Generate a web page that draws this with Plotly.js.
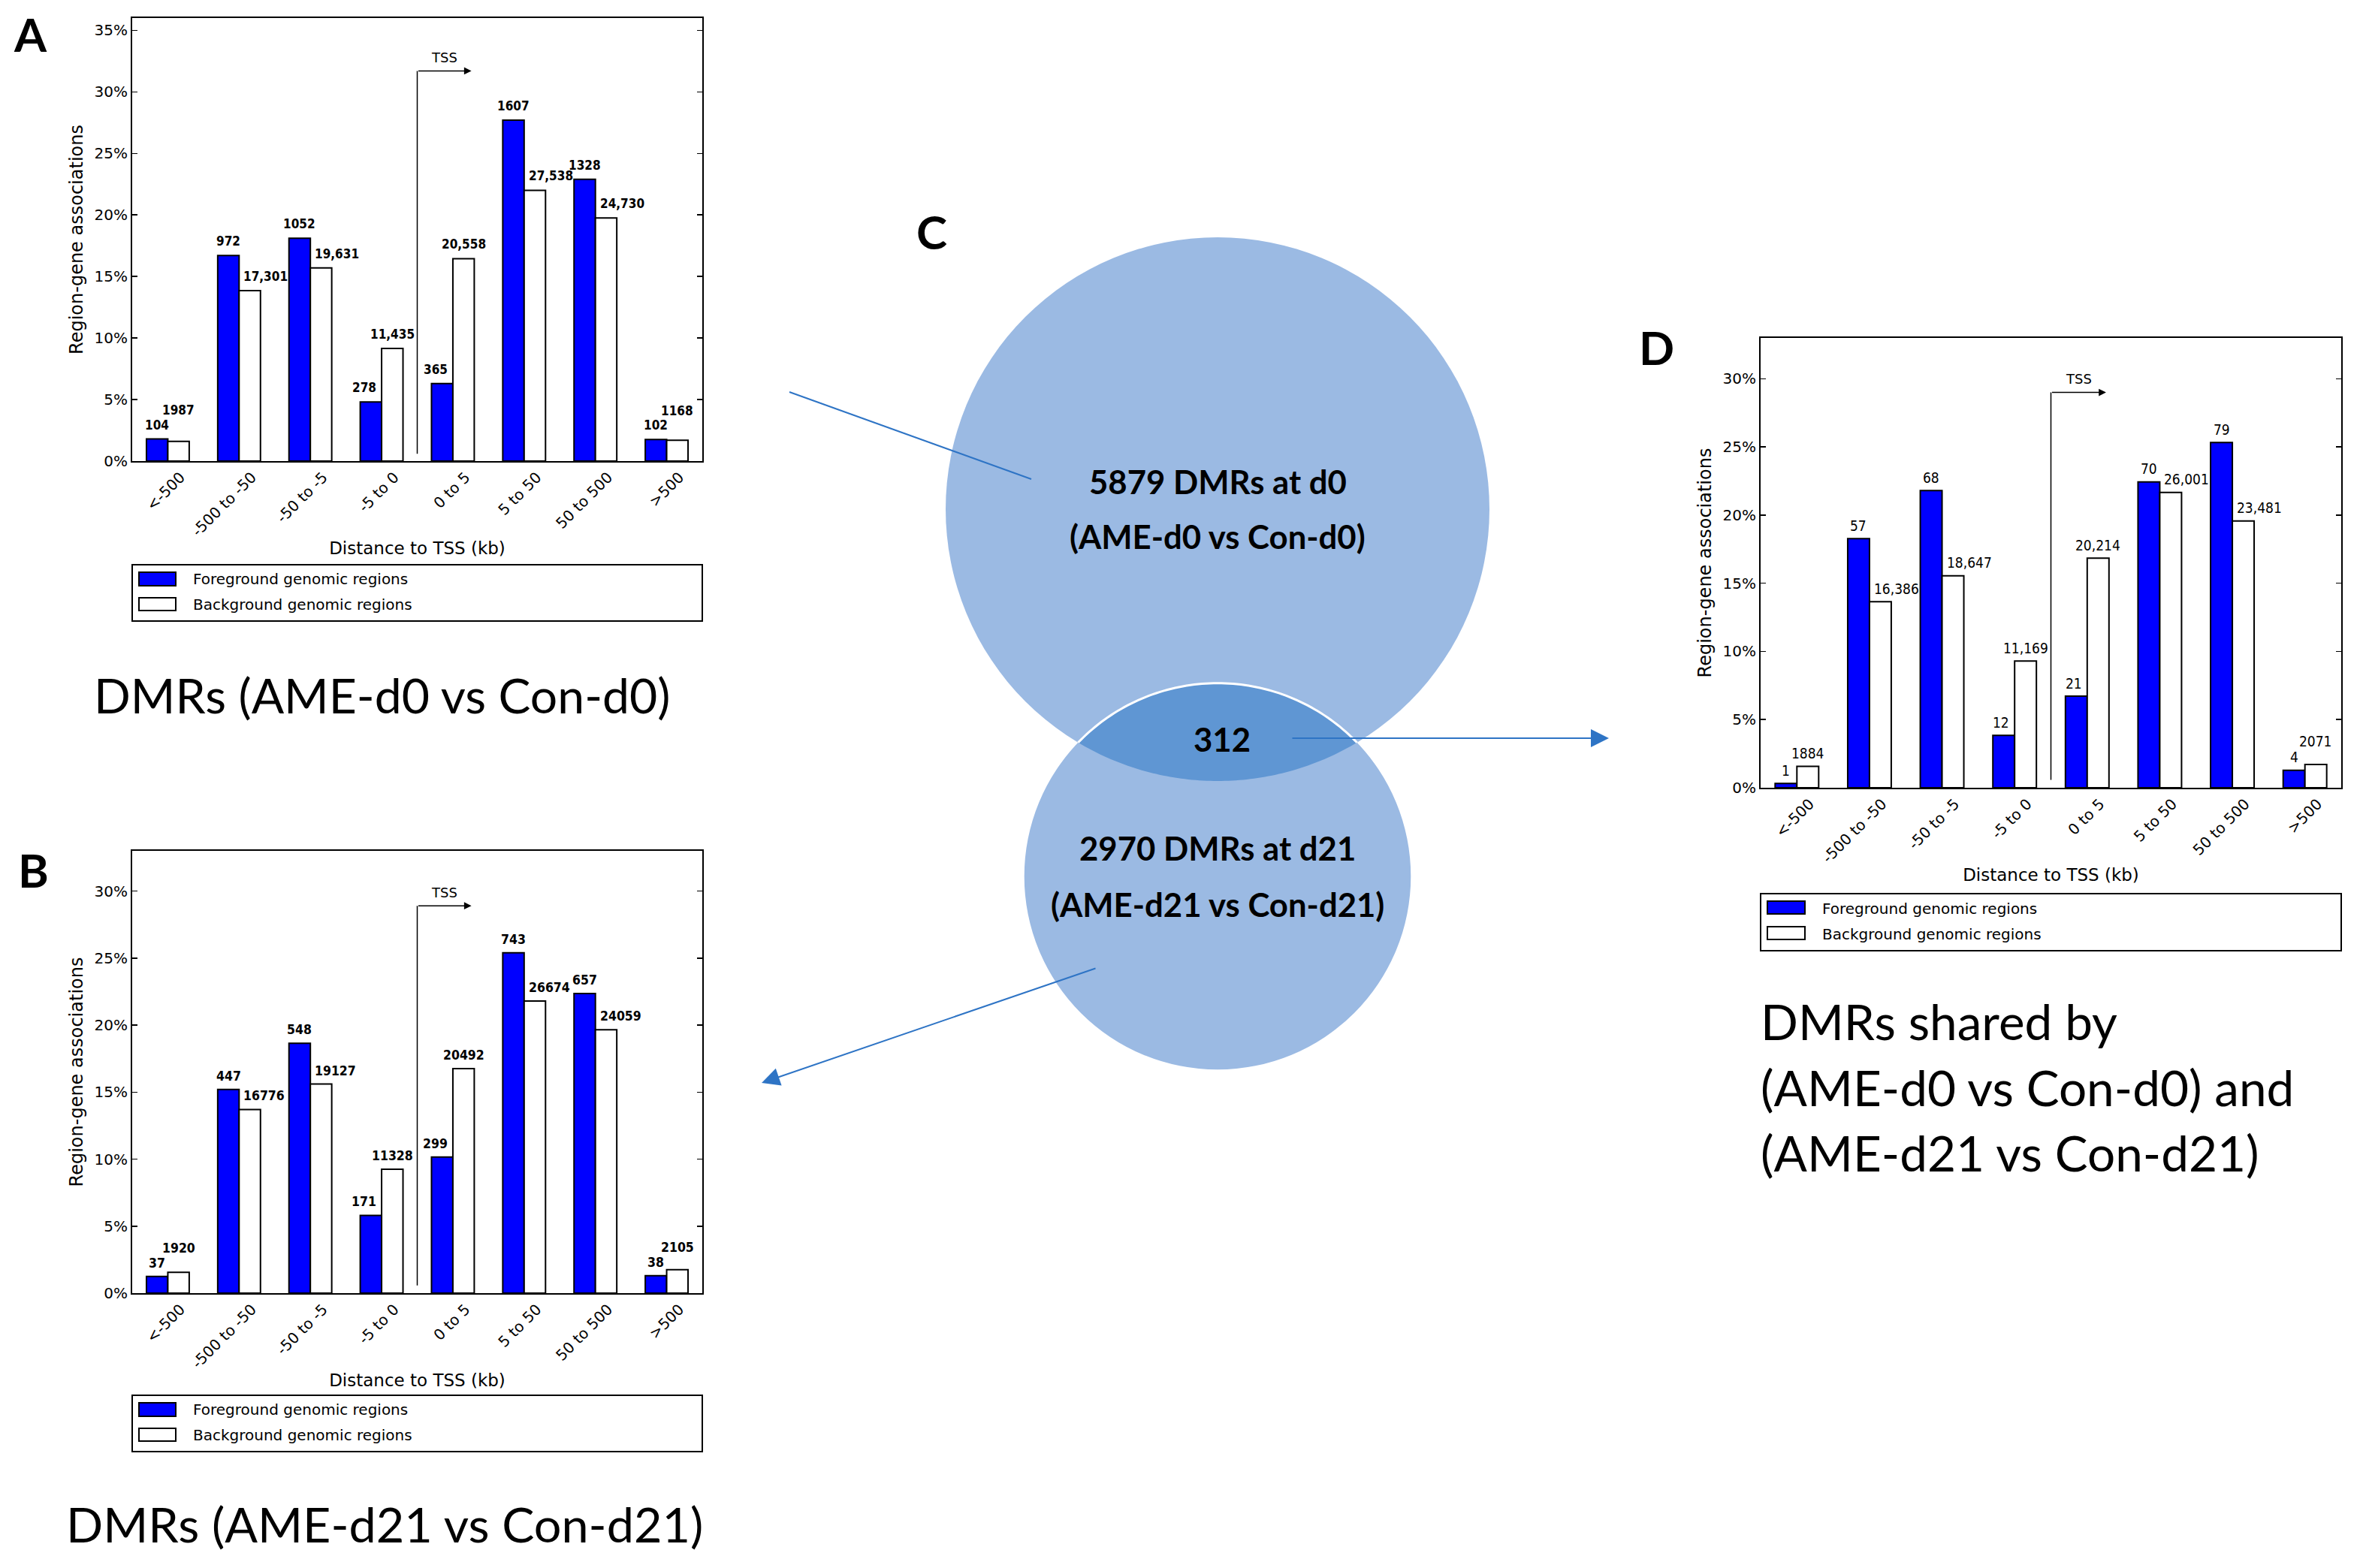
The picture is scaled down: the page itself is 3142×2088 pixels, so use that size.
<!DOCTYPE html>
<html><head><meta charset="utf-8">
<script src="https://cdn.plot.ly/plotly-3.0.1.min.js"></script>
<style>html,body{margin:0;padding:0;background:#fff}#chart{width:3142px;height:2088px}</style>
</head><body><div id="chart"></div>
<script>
// ---------------- DATA ----------------
const categories = ['<-500','-500 to -50','-50 to -5','-5 to 0','0 to 5','5 to 50','50 to 500','>500'];
const seriesNames = ['Foreground genomic regions','Background genomic regions'];

// Panel A: DMRs (AME-d0 vs Con-d0)  (% region-gene associations)
const fgPctA = [1.8, 16.7, 18.1, 4.8, 6.3, 27.7, 22.9, 1.75];
const bgPctA = [1.6, 13.85, 15.7, 9.15, 16.45, 22.0, 19.75, 1.7];
const fgCountA = ['104','972','1052','278','365','1607','1328','102'];
const bgCountA = ['1987','17,301','19,631','11,435','20,558','27,538','24,730','1168'];

// Panel B: DMRs (AME-d21 vs Con-d21)
const fgPctB = [1.25, 15.2, 18.65, 5.8, 10.15, 25.4, 22.35, 1.3];
const bgPctB = [1.55, 13.7, 15.6, 9.25, 16.75, 21.8, 19.65, 1.75];
const fgCountB = ['37','447','548','171','299','743','657','38'];
const bgCountB = ['1920','16776','19127','11328','20492','26674','24059','2105'];

// Panel D: shared DMRs
const fgPctD = [0.32, 18.27, 21.8, 3.84, 6.72, 22.44, 25.33, 1.28];
const bgPctD = [1.57, 13.65, 15.55, 9.3, 16.84, 21.67, 19.57, 1.71];
const fgCountD = ['1','57','68','12','21','70','79','4'];
const bgCountD = ['1884','16,386','18,647','11,169','20,214','26,001','23,481','2071'];

// Panel C: Venn
const vennCounts = [5879, 2970, 312];
const vennSubtitles = ['(AME-d0 vs Con-d0)', '(AME-d21 vs Con-d21)'];

const captionA = 'DMRs (AME-d0 vs Con-d0)';
const captionB = 'DMRs (AME-d21 vs Con-d21)';
const captionD = ['DMRs shared by', '(AME-d0 vs Con-d0) and', '(AME-d21 vs Con-d21)'];

// ---------------- LAYOUT HELPERS ----------------
const W = 3142, H = 2088;
const PX = x => x / W, PY = y => 1 - y / H;
const DJ = 'DejaVu Sans';
const DJC = 'DejaVu Sans Condensed, DejaVu Sans';
const LATO = 'Lato, Carlito, Open Sans, sans-serif';
const ctx = document.createElement('canvas').getContext('2d');
function measure(text, size, weight, family) {
  ctx.font = weight + ' ' + size + 'px ' + family.split(',').map(f => '"' + f.trim() + '"').join(',');
  return ctx.measureText(text).width;
}
function fit(text, target, weight, family) {
  return 100 * target / measure(text, 100, weight, family);
}

function draw() {
  const panels = [
    {ax:'', letter:'A', fg:fgPctA, bg:bgPctA, fl:fgCountA, bl:bgCountA,
     box:{l:176, r:935, t:24, b:614}, ymax:36, yt:[0,5,10,15,20,25,30,35],
     tss:[0.6, 31.7, 32.8], lab:{w:'bold', s:17, gap:19},
     leg:{l:176, r:935, t:752, b:827, sw:[185,234], rows:[[762,780,771],[796,813,805]], tx:255},
     let:[40,45]},
    {ax:'2', letter:'B', fg:fgPctB, bg:bgPctB, fl:fgCountB, bl:bgCountB,
     box:{l:176, r:935, t:1133, b:1722}, ymax:33, yt:[0,5,10,15,20,25,30],
     tss:[0.57, 28.9, 29.9], lab:{w:'bold', s:17.5, gap:18},
     leg:{l:176, r:935, t:1858, b:1933, sw:[185,234], rows:[[1868,1886,1877],[1902,1919,1911]], tx:255},
     let:[44,1158]},
    {ax:'3', letter:'D', fg:fgPctD, bg:bgPctD, fl:fgCountD, bl:bgCountD,
     box:{l:2344, r:3117, t:450, b:1049}, ymax:33, yt:[0,5,10,15,20,25,30],
     tss:[0.58, 29.0, 30.0], lab:{w:'normal', s:19, gap:17.5},
     leg:{l:2344, r:3117, t:1190, b:1266, sw:[2353,2403], rows:[[1200,1217,1210],[1234,1251,1244]], tx:2424},
     let:[2205,462]}
  ];

  const data = [];
  const layout = {
    width: W, height: H, margin:{l:0, r:0, t:0, b:0, pad:0},
    paper_bgcolor:'#fff', plot_bgcolor:'#fff', showlegend:false,
    barmode:'group', bargap:0.4, bargroupgap:0,
    font:{family:DJ, color:'#000', size:20},
    shapes:[], annotations:[]
  };

  panels.forEach(p => {
    const xa = 'x' + p.ax, ya = 'y' + p.ax;
    data.push({type:'bar', x:categories, y:p.fg, name:seriesNames[0], xaxis:xa, yaxis:ya,
      marker:{color:'#0000ff', line:{color:'#000', width:2}}, hoverinfo:'skip'});
    data.push({type:'bar', x:categories, y:p.bg, name:seriesNames[1], xaxis:xa, yaxis:ya,
      marker:{color:'#ffffff', line:{color:'#000', width:2}}, hoverinfo:'skip'});
    layout['xaxis' + p.ax] = {
      domain:[PX(p.box.l), PX(p.box.r)], anchor:ya, type:'category', range:[-0.5, 7.5],
      tickangle:-45, ticks:'', showline:true, linecolor:'#000', linewidth:2, mirror:true,
      showgrid:false, zeroline:false, tickfont:{family:DJ, size:20}, ticklabelshift:17,
      title:{text:'Distance to TSS (kb)', font:{family:DJ, size:23}, standoff:4}, fixedrange:true
    };
    layout['yaxis' + p.ax] = {
      domain:[PY(p.box.b), PY(p.box.t)], anchor:xa, range:[0, p.ymax],
      tickmode:'array', tickvals:p.yt, ticktext:p.yt.map(v => v + '%'),
      ticks:'inside', ticklen:7, tickwidth:1.5,
      tickcolor:'#000', showline:true, linecolor:'#000', linewidth:2, mirror:'ticks',
      showgrid:false, zeroline:false, tickfont:{family:DJ, size:20},
      title:{text:'Region-gene associations', font:{family:DJ, size:24}, standoff:8}, fixedrange:true
    };

    // TSS marker
    layout.shapes.push({type:'line', xref:xa, yref:ya, x0:3.5, x1:3.5, y0:p.tss[0], y1:p.tss[1],
      line:{color:'#000', width:1.5}});
    layout.annotations.push({xref:xa, yref:ya, x:4.26, y:p.tss[1], axref:xa, ayref:ya, ax:3.5, ay:p.tss[1],
      text:'', showarrow:true, arrowhead:2, arrowsize:1.3, arrowwidth:1.5, arrowcolor:'#000'});
    layout.annotations.push({xref:xa, yref:ya, x:3.88, y:p.tss[2], text:'TSS', showarrow:false,
      font:{family:DJ, size:18}});

    // value labels, placed from bar heights with simple overlap avoidance
    const catW = (p.box.r - p.box.l) / 8;
    const ppu = (p.box.b - p.box.t) / p.ymax;
    const hgt = p.lab.s * 0.78;
    const lf = {family:DJC, size:p.lab.s, weight: p.lab.w === 'bold' ? 700 : 400};
    for (let i = 0; i < categories.length; i++) {
      const fv = p.fg[i], bv = p.bg[i];
      const fTop = p.box.b - fv * ppu, bTop = p.box.b - bv * ppu;
      const fCx = p.box.l + (i + 0.35) * catW, bCx = p.box.l + (i + 0.65) * catW;
      const mid = p.box.l + (i + 0.5) * catW;
      const fw = measure(p.fl[i], p.lab.s, p.lab.w, DJC), bw = measure(p.bl[i], p.lab.s, p.lab.w, DJC);
      let fA = 'center', fX = fCx, fY = fTop - p.lab.gap;
      if (bv > fv && fX + fw / 2 > mid - 5 && fY + hgt / 2 > bTop) { fA = 'right'; fX = mid - 5; }
      const fR = fA === 'center' ? fX + fw / 2 : fX;
      let bA = 'center', bX = bCx, bY = bTop - p.lab.gap;
      if (bY + hgt / 2 > fTop && bX - bw / 2 < mid + 3) { bA = 'left'; bX = mid + 4; }
      else if (bX - bw / 2 < fR + 4 && Math.abs(bY - fY) < hgt + 4) { bY = fY - hgt - 6; }
      layout.annotations.push({xref:xa, yref:ya, x:(fX - p.box.l) / catW - 0.5, y:fv, yshift:fTop - fY,
        xanchor:fA, yanchor:'middle', text:p.fl[i], showarrow:false, font:lf});
      layout.annotations.push({xref:xa, yref:ya, x:(bX - p.box.l) / catW - 0.5, y:bv, yshift:bTop - bY,
        xanchor:bA, yanchor:'middle', text:p.bl[i], showarrow:false, font:lf});
    }

    // legend box
    const L = p.leg;
    layout.shapes.push({type:'rect', xref:'paper', yref:'paper', x0:PX(L.l), x1:PX(L.r), y0:PY(L.b), y1:PY(L.t),
      line:{color:'#000', width:2}, fillcolor:'rgba(0,0,0,0)'});
    ['#0000ff', '#ffffff'].forEach((c, k) => {
      const r = L.rows[k];
      layout.shapes.push({type:'rect', xref:'paper', yref:'paper', x0:PX(L.sw[0]), x1:PX(L.sw[1]),
        y0:PY(r[1]), y1:PY(r[0]), line:{color:'#000', width:2}, fillcolor:c});
      layout.annotations.push({xref:'paper', yref:'paper', x:PX(L.tx), y:PY(r[2]), xanchor:'left', yanchor:'middle',
        text:seriesNames[k], showarrow:false, font:{family:DJ, size:20}});
    });

    // panel letter
    layout.annotations.push({xref:'paper', yref:'paper', x:PX(p.let[0]), y:PY(p.let[1]), xanchor:'center', yanchor:'middle',
      text:p.letter, showarrow:false, font:{family:LATO, size:62, weight:700}});
  });

  // captions
  const capA = {family:LATO, size:fit(captionA, 769, 'normal', LATO), color:'#000'};
  const capB = {family:LATO, size:fit(captionB, 850, 'normal', LATO), color:'#000'};
  const capD = {family:LATO, size:fit(captionD[1], 712, 'normal', LATO), color:'#000'};
  layout.annotations.push({xref:'paper', yref:'paper', x:PX(123), y:PY(925), xanchor:'left', yanchor:'middle',
    text:captionA, showarrow:false, font:capA});
  layout.annotations.push({xref:'paper', yref:'paper', x:PX(86), y:PY(2029), xanchor:'left', yanchor:'middle',
    text:captionB, showarrow:false, font:capB});
  [1359, 1447, 1534].forEach((y, k) => layout.annotations.push({xref:'paper', yref:'paper', x:PX(2342), y:PY(y),
    xanchor:'left', yanchor:'middle', text:captionD[k], showarrow:false, font:capD}));

  // ---------------- Venn (panel C) on a pixel-scaled hidden axis ----------------
  layout.xaxis4 = {domain:[PX(1000), PX(2200)], range:[1000, 2200], anchor:'y4', visible:false, fixedrange:true};
  layout.yaxis4 = {domain:[PY(1460), PY(240)], range:[1460, 240], anchor:'x4', visible:false, fixedrange:true};
  data.push({type:'scatter', x:[], y:[], xaxis:'x4', yaxis:'y4', hoverinfo:'skip', showlegend:false});

  const k = 362 / Math.sqrt(vennCounts[0]);
  const r1 = k * Math.sqrt(vennCounts[0]), r2 = k * Math.sqrt(vennCounts[1]);
  const cx = 1621, c1y = 678, c2y = 1167;
  const single = '#9BBAE3', overlap = '#5F96D3';
  layout.shapes.push({type:'circle', xref:'x4', yref:'y4', x0:cx - r1, x1:cx + r1, y0:c1y - r1, y1:c1y + r1,
    fillcolor:single, line:{width:0, color:'rgba(0,0,0,0)'}});
  layout.shapes.push({type:'circle', xref:'x4', yref:'y4', x0:cx - r2, x1:cx + r2, y0:c2y - r2, y1:c2y + r2,
    fillcolor:single, line:{width:0, color:'rgba(0,0,0,0)'}});
  const d = c2y - c1y;
  const a = (d * d + r1 * r1 - r2 * r2) / (2 * d);
  const yi = c1y + a;
  const hh = Math.sqrt(r1 * r1 - a * a);
  const t1L = Math.atan2(yi - c1y, -hh), t1R = Math.atan2(yi - c1y, hh);
  const t2R = Math.atan2(yi - c2y, hh), t2L = Math.atan2(yi - c2y, -hh);
  const N = 80;
  let lens = '', arc = '';
  for (let j = 0; j <= N; j++) {
    const t = t1L + (t1R - t1L) * j / N;
    lens += (j === 0 ? 'M' : 'L') + (cx + r1 * Math.cos(t)).toFixed(2) + ',' + (c1y + r1 * Math.sin(t)).toFixed(2);
  }
  for (let j = 0; j <= N; j++) {
    const t = t2R + (t2L - t2R) * j / N;
    const pt = (cx + r2 * Math.cos(t)).toFixed(2) + ',' + (c2y + r2 * Math.sin(t)).toFixed(2);
    lens += 'L' + pt;
    arc += (j === 0 ? 'M' : 'L') + pt;
  }
  lens += 'Z';
  layout.shapes.push({type:'path', xref:'x4', yref:'y4', path:lens, fillcolor:overlap, line:{width:0, color:'rgba(0,0,0,0)'}});
  layout.shapes.push({type:'path', xref:'x4', yref:'y4', path:arc, fillcolor:'rgba(0,0,0,0)', line:{width:3, color:'#ffffff'}});

  const arrowColor = '#2E74C5';
  layout.shapes.push({type:'line', xref:'x4', yref:'y4', x0:1051, y0:522, x1:1373, y1:638, line:{color:arrowColor, width:2}});
  layout.annotations.push({xref:'x4', yref:'y4', axref:'x4', ayref:'y4', x:2142, y:983, ax:1719, ay:983,
    text:'', showarrow:true, arrowhead:2, arrowsize:2.4, arrowwidth:2, arrowcolor:arrowColor});
  layout.annotations.push({xref:'x4', yref:'y4', axref:'x4', ayref:'y4', x:1014, y:1442, ax:1460, ay:1289,
    text:'', showarrow:true, arrowhead:2, arrowsize:2.4, arrowwidth:2, arrowcolor:arrowColor});

  const vLines = [vennCounts[0] + ' DMRs at d0', vennSubtitles[0], String(vennCounts[2]),
                  vennCounts[1] + ' DMRs at d21', vennSubtitles[1]];
  const vPos = [[1621,641],[1621,714],[1627,984],[1621,1129],[1621,1204]];
  const vSize = fit(vLines[0], 343, 'bold', LATO);
  vLines.forEach((t, j) => layout.annotations.push({xref:'x4', yref:'y4', x:vPos[j][0], y:vPos[j][1],
    xanchor:'center', yanchor:'middle', text:t, showarrow:false, font:{family:LATO, size:vSize, weight:700}}));
  layout.annotations.push({xref:'paper', yref:'paper', x:PX(1240), y:PY(308), xanchor:'center', yanchor:'middle',
    text:'C', showarrow:false, font:{family:LATO, size:62, weight:700}});

  Plotly.newPlot('chart', data, layout, {staticPlot:true, displayModeBar:false});
}

const fontLoads = ['700 20px Lato', '400 20px Lato', '400 20px "DejaVu Sans"', '700 20px "DejaVu Sans Condensed"'];
Promise.all(fontLoads.map(f => document.fonts.load(f).catch(() => null))).then(draw, draw);
</script>
</body></html>
